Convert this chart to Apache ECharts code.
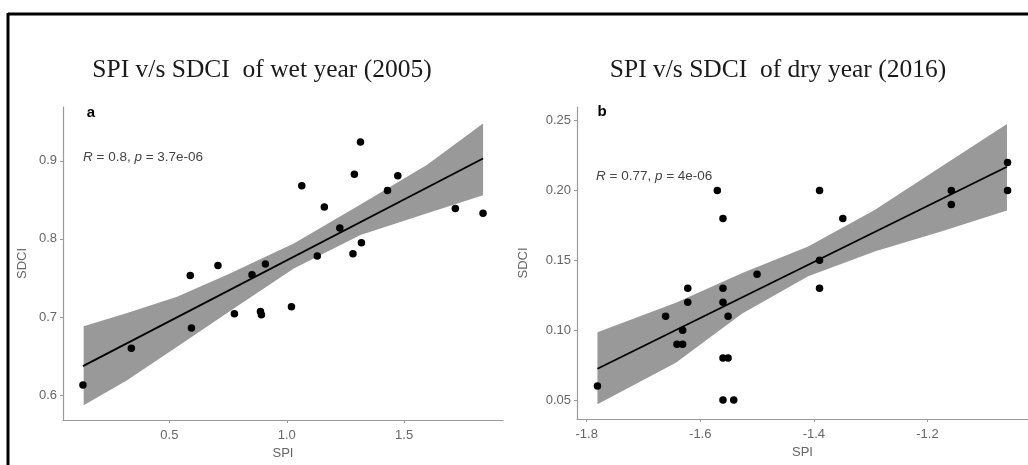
<!DOCTYPE html>
<html>
<head>
<meta charset="utf-8">
<script src="https://cdn.jsdelivr.net/npm/echarts@6.0.0/dist/echarts.min.js"></script>
<style>
html,body{margin:0;padding:0;background:#fff;}
#chart{width:1028px;height:465px;}
</style>
</head>
<body>
<div id="chart"></div>
<script>
// ---- Panel a: wet year (2005) ----
var spiWet = [0.132, 0.338, 0.589, 0.594, 0.707, 0.777, 0.852, 0.888, 0.892, 0.909, 1.020, 1.064, 1.130, 1.160, 1.226, 1.282, 1.288, 1.314, 1.318, 1.429, 1.473, 1.718, 1.836];
var sdciWet = [0.613, 0.660, 0.753, 0.686, 0.766, 0.704, 0.754, 0.707, 0.703, 0.768, 0.713, 0.868, 0.778, 0.841, 0.814, 0.781, 0.883, 0.924, 0.795, 0.862, 0.881, 0.839, 0.833];
var fitWetX = [0.132, 1.836];
var fitWetY = [0.637, 0.903];
var bandWetX = [0.135, 0.320, 0.533, 0.746, 1.030, 1.314, 1.598, 1.836];
var bandWetUpper = [0.688, 0.705, 0.726, 0.754, 0.794, 0.844, 0.895, 0.948];
var bandWetLower = [0.587, 0.619, 0.662, 0.705, 0.762, 0.805, 0.833, 0.856];
var xTicksWet = [0.5, 1.0, 1.5];
var yTicksWet = [0.6, 0.7, 0.8, 0.9];

// ---- Panel b: dry year (2016) ----
var spiDry = [-1.781, -1.661, -1.641, -1.631, -1.631, -1.622, -1.622, -1.570, -1.560, -1.560, -1.560, -1.551, -1.560, -1.551, -1.560, -1.541, -1.500, -1.390, -1.390, -1.390, -1.349, -1.158, -1.158, -1.059, -1.059];
var sdciDry = [0.06, 0.11, 0.09, 0.09, 0.10, 0.13, 0.12, 0.20, 0.18, 0.13, 0.12, 0.11, 0.08, 0.08, 0.05, 0.05, 0.14, 0.20, 0.15, 0.13, 0.18, 0.20, 0.19, 0.22, 0.20];
var fitDryX = [-1.781, -1.060];
var fitDryY = [0.0724, 0.217];
var bandDryX = [-1.781, -1.643, -1.526, -1.410, -1.293, -1.176, -1.060];
var bandDryUpper = [0.0986, 0.1196, 0.141, 0.160, 0.186, 0.217, 0.2476];
var bandDryLower = [0.047, 0.0767, 0.112, 0.1386, 0.1564, 0.1707, 0.1857];
var xTicksDry = [-1.8, -1.6, -1.4, -1.2];
var yTicksDry = [0.05, 0.10, 0.15, 0.20, 0.25];

var titles = ['SPI v/s SDCI  of wet year (2005)', 'SPI v/s SDCI  of dry year (2016)'];
var panelTags = ['a', 'b'];
var statsText = [['R', ' = 0.8, ', 'p', ' = 3.7e-06'], ['R', ' = 0.77, ', 'p', ' = 4e-06']];

function zip(a, b) { return a.map(function (v, i) { return [v, b[i]]; }); }

function bandSeries(xIdx, xs, up, lo) {
  var data = xs.map(function (x, i) { return [x, up[i], lo[i]]; });
  return {
    type: 'custom', xAxisIndex: xIdx, yAxisIndex: xIdx, z: 1, silent: true,
    data: data,
    encode: { x: 0, y: [1, 2] },
    renderItem: function (params, api) {
      if (params.dataIndex !== 0) return null;
      var pts = [];
      for (var i = 0; i < data.length; i++) pts.push(api.coord([data[i][0], data[i][1]]));
      for (var j = data.length - 1; j >= 0; j--) pts.push(api.coord([data[j][0], data[j][2]]));
      return { type: 'polygon', shape: { points: pts }, style: { fill: '#999999' } };
    }
  };
}

var axisCommon = {
  type: 'value',
  axisLine: { show: true, lineStyle: { color: '#9a9a9a', width: 1.2 } },
  splitLine: { show: false },
  nameTextStyle: { color: '#666', fontSize: 13, fontFamily: 'Liberation Sans, Arial, sans-serif' }
};
function mkX(idx, min, max, ticks, dec) {
  return Object.assign({}, axisCommon, {
    gridIndex: idx, min: min, max: max, name: 'SPI', nameLocation: 'middle', nameGap: 24,
    axisTick: { show: true, length: 3, lineStyle: { color: '#9a9a9a' }, customValues: ticks },
    axisLabel: { color: '#666', fontSize: 13, margin: 9, fontFamily: 'Liberation Sans, Arial, sans-serif',
      customValues: ticks, formatter: function (v) { return v.toFixed(dec); } }
  });
}
function mkY(idx, min, max, ticks, dec, gap) {
  return Object.assign({}, axisCommon, {
    gridIndex: idx, min: min, max: max, name: 'SDCI', nameLocation: 'middle', nameGap: gap,
    axisTick: { show: true, length: 3, lineStyle: { color: '#9a9a9a' }, customValues: ticks },
    axisLabel: { color: '#666', fontSize: 13, margin: 6, fontFamily: 'Liberation Sans, Arial, sans-serif',
      customValues: ticks, formatter: function (v) { return v.toFixed(dec); } }
  });
}

var chart = echarts.init(document.getElementById('chart'), null, { renderer: 'canvas' });
var option = {
  animation: false,
  backgroundColor: '#fff',
  grid: [
    { left: 63, top: 107, width: 440, height: 313 },
    { left: 577, top: 107, width: 454, height: 312 }
  ],
  xAxis: [mkX(0, 0.047, 1.921, xTicksWet, 1), mkX(1, -1.817, -1.023, xTicksDry, 1)],
  yAxis: [mkY(0, 0.568, 0.969, yTicksWet, 1, 34), mkY(1, 0.0364, 0.2598, yTicksDry, 2, 47)],
  series: [
    bandSeries(0, bandWetX, bandWetUpper, bandWetLower),
    { type: 'line', xAxisIndex: 0, yAxisIndex: 0, z: 2, data: zip(fitWetX, fitWetY), symbol: 'none',
      lineStyle: { color: '#000', width: 1.8 } },
    { type: 'scatter', xAxisIndex: 0, yAxisIndex: 0, z: 3, data: zip(spiWet, sdciWet), symbolSize: 7.5,
      itemStyle: { color: '#000', opacity: 1 } },
    bandSeries(1, bandDryX, bandDryUpper, bandDryLower),
    { type: 'line', xAxisIndex: 1, yAxisIndex: 1, z: 2, data: zip(fitDryX, fitDryY), symbol: 'none',
      lineStyle: { color: '#000', width: 1.8 } },
    { type: 'scatter', xAxisIndex: 1, yAxisIndex: 1, z: 3, data: zip(spiDry, sdciDry), symbolSize: 7.5,
      itemStyle: { color: '#000', opacity: 1 } }
  ],
  graphic: [
    { type: 'line', shape: { x1: 8, y1: 14, x2: 1028, y2: 14 }, style: { stroke: '#000', lineWidth: 3 } },
    { type: 'line', shape: { x1: 8, y1: 13, x2: 8, y2: 465 }, style: { stroke: '#000', lineWidth: 3 } },
    { type: 'text', x: 262, y: 70, style: { text: titles[0], textAlign: 'center', textVerticalAlign: 'middle',
      fontFamily: 'Liberation Serif, Times New Roman, serif', fontSize: 25.5, fill: '#1a1a1a' } },
    { type: 'text', x: 778, y: 70, style: { text: titles[1], textAlign: 'center', textVerticalAlign: 'middle',
      fontFamily: 'Liberation Serif, Times New Roman, serif', fontSize: 25.5, fill: '#1a1a1a' } },
    { type: 'text', x: 91, y: 113, style: { text: panelTags[0], textAlign: 'center', textVerticalAlign: 'middle',
      fontFamily: 'Liberation Sans, Arial, sans-serif', fontWeight: 'bold', fontSize: 15, fill: '#000' } },
    { type: 'text', x: 602, y: 112, style: { text: panelTags[1], textAlign: 'center', textVerticalAlign: 'middle',
      fontFamily: 'Liberation Sans, Arial, sans-serif', fontWeight: 'bold', fontSize: 15, fill: '#000' } },
    { type: 'text', x: 83, y: 157, style: {
      text: '{i|' + statsText[0][0] + '}{n|' + statsText[0][1] + '}{i|' + statsText[0][2] + '}{n|' + statsText[0][3] + '}',
      textVerticalAlign: 'middle',
      rich: { i: { fontStyle: 'italic', fontSize: 13.5, fill: '#444', fontFamily: 'Liberation Sans, Arial, sans-serif' },
              n: { fontSize: 13.5, fill: '#444', fontFamily: 'Liberation Sans, Arial, sans-serif' } } } },
    { type: 'text', x: 596, y: 176, style: {
      text: '{i|' + statsText[1][0] + '}{n|' + statsText[1][1] + '}{i|' + statsText[1][2] + '}{n|' + statsText[1][3] + '}',
      textVerticalAlign: 'middle',
      rich: { i: { fontStyle: 'italic', fontSize: 13.5, fill: '#444', fontFamily: 'Liberation Sans, Arial, sans-serif' },
              n: { fontSize: 13.5, fill: '#444', fontFamily: 'Liberation Sans, Arial, sans-serif' } } } }
  ]
};
chart.setOption(option);
</script>
</body>
</html>
